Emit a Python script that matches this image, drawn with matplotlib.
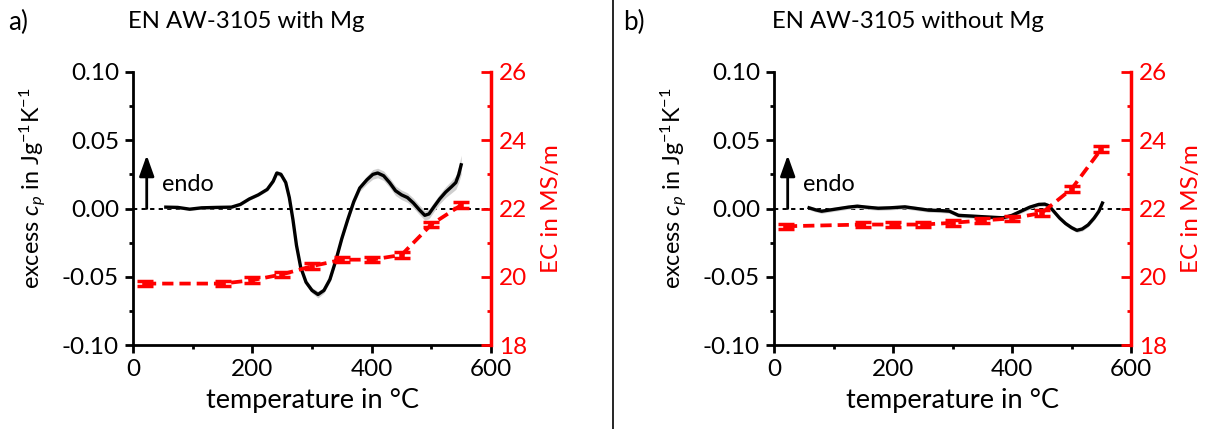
import numpy as np
import matplotlib
matplotlib.use("Agg")
import matplotlib.pyplot as plt
from matplotlib.ticker import MultipleLocator, FormatStrFormatter

plt.rcParams['font.family'] = ['Lato', 'DejaVu Sans']
plt.rcParams['mathtext.fontset'] = 'custom'
plt.rcParams['mathtext.rm'] = 'Lato'
plt.rcParams['mathtext.it'] = 'Lato:italic'
plt.rcParams['axes.unicode_minus'] = False

# ---------------- data ----------------
# panel a: EN AW-3105 with Mg
temp_a = [55, 75, 95, 115, 140, 165, 180, 195, 210, 225, 235, 241, 248, 256, 262, 268, 274,
          281, 290, 300, 310, 320, 330, 340, 350, 360, 370, 380, 392, 402, 410, 420, 430,
          440, 450, 460, 470, 480, 489, 496, 504, 514, 524, 534, 541, 546, 550]
cp_a = [0.001, 0.0008, -0.0005, 0.0005, 0.0008, 0.001, 0.003, 0.007, 0.010, 0.014, 0.020,
        0.026, 0.025, 0.019, 0.008, -0.008, -0.027, -0.043, -0.054, -0.060, -0.063, -0.060,
        -0.052, -0.038, -0.022, -0.008, 0.005, 0.015, 0.021, 0.025, 0.026, 0.024, 0.019,
        0.013, 0.010, 0.008, 0.004, -0.001, -0.005, -0.004, 0.001, 0.007, 0.012, 0.016,
        0.019, 0.025, 0.032]
cp_a_err = [0.001, 0.001, 0.001, 0.001, 0.001, 0.001, 0.001, 0.001, 0.001, 0.0012, 0.0015,
            0.0018, 0.0018, 0.0018, 0.0018, 0.0018, 0.0018, 0.0018, 0.0018, 0.002, 0.0025,
            0.002, 0.0018, 0.0018, 0.0018, 0.0018, 0.002, 0.0025, 0.003, 0.0035, 0.0035,
            0.0035, 0.0035, 0.0035, 0.0035, 0.0035, 0.0035, 0.0035, 0.0035, 0.0035, 0.0035,
            0.0035, 0.004, 0.0045, 0.005, 0.006, 0.007]
ec_temp_a = [20, 150, 200, 250, 300, 350, 400, 450, 500, 550]
ec_a = [19.8, 19.8, 19.9, 20.07, 20.31, 20.5, 20.5, 20.64, 21.53, 22.1]
ec_a_err = [0.08, 0.08, 0.08, 0.08, 0.08, 0.08, 0.08, 0.08, 0.08, 0.08]

# panel b: EN AW-3105 without Mg
temp_b = [59, 70, 80, 95, 110, 125, 140, 155, 175, 195, 220, 240, 260, 280, 295, 310,
          330, 350, 370, 385, 400, 415, 430, 445, 455, 462, 470, 480, 490, 500, 509, 518,
          528, 538, 546, 552]
cp_b = [0.0005, -0.001, -0.002, -0.001, 0.0, 0.001, 0.0017, 0.001, 0.0002, 0.0005, 0.0012,
        0.0, -0.0012, -0.0015, -0.002, -0.005, -0.0055, -0.006, -0.0065, -0.0068, -0.005,
        -0.002, 0.001, 0.003, 0.0032, 0.002, -0.002, -0.007, -0.011, -0.014, -0.016, -0.015,
        -0.012, -0.007, -0.002, 0.004]
cp_b_err = [0.0015] * 36
ec_temp_b = [20, 150, 200, 250, 300, 350, 400, 450, 500, 550]
ec_b = [21.48, 21.53, 21.53, 21.53, 21.58, 21.65, 21.71, 21.87, 22.57, 23.74]
ec_b_err = [0.08, 0.08, 0.08, 0.08, 0.08, 0.08, 0.08, 0.08, 0.08, 0.08]

titles = ["EN AW-3105 with Mg", "EN AW-3105 without Mg"]
letters = ["a)", "b)"]

# ---------------- figure ----------------
W, H = 1222, 429
fig = plt.figure(figsize=(W / 100, H / 100), dpi=100)

def px(l, b, r, t):
    return [l / W, (H - b) / H, (r - l) / W, (b - t) / H]

boxes = [px(133, 345, 491, 72), px(774, 345, 1131, 72)]
RED = '#ff0000'
FS_TICK = 17.5
FS_XLAB = 19.5
FS_YLAB = 16.8
FS_EC = 17.5
FS_ENDO = 16.8
FS_TITLE = 17.2

datasets = [
    (temp_a, cp_a, cp_a_err, ec_temp_a, ec_a, ec_a_err),
    (temp_b, cp_b, cp_b_err, ec_temp_b, ec_b, ec_b_err),
]

for i, (box, d) in enumerate(zip(boxes, datasets)):
    t, cp, cpe, et, ec, ece = d
    t = np.array(t); cp = np.array(cp); cpe = np.array(cpe)
    ax = fig.add_axes(box)
    ax.axhline(0, color='black', lw=1.4, ls=(0, (2.2, 2.2)), zorder=1)
    ax.fill_between(t, cp - cpe, cp + cpe, color='#cfcfcf', lw=0, zorder=2)
    ax.plot(t, cp, color='black', lw=2.4, zorder=3)
    ax.set_xlim(0, 600)
    ax.set_ylim(-0.10, 0.10)
    ax.xaxis.set_major_locator(MultipleLocator(200))
    ax.xaxis.set_minor_locator(MultipleLocator(100))
    ax.yaxis.set_major_locator(MultipleLocator(0.05))
    ax.yaxis.set_minor_locator(MultipleLocator(0.025))
    ax.yaxis.set_major_formatter(FormatStrFormatter('%.2f'))
    ax.spines['top'].set_visible(False)
    ax.spines['right'].set_visible(False)
    for s in ['left', 'bottom']:
        ax.spines[s].set_linewidth(2)
    ax.tick_params(which='major', direction='out', length=6, width=2,
                   labelsize=FS_TICK, pad=4)
    ax.tick_params(which='minor', direction='out', length=3, width=2)
    ax.set_xlabel('temperature in °C', fontsize=FS_XLAB, labelpad=6)
    ax.set_ylabel(r'excess $c_p$ in Jg$^{-1}$K$^{-1}$', fontsize=FS_YLAB, labelpad=6)
    ax.yaxis.set_label_coords(-0.235, 0.575)

    # endo arrow
    ax.annotate('', xy=(23, 0.039), xytext=(23, 0.0),
                arrowprops=dict(arrowstyle='-|>,head_length=0.7,head_width=0.25',
                                color='black', lw=2,
                                mutation_scale=18, shrinkA=0, shrinkB=0), zorder=4)
    ax.text(49, 0.0175, 'endo', fontsize=FS_ENDO, va='center', ha='left')

    ax2 = ax.twinx()
    ax2.errorbar(et, ec, yerr=ece, color=RED, lw=2.7, ls=(0, (3, 1.6)),
                 elinewidth=4, capsize=6, capthick=2.5, zorder=5)
    ax2.set_ylim(18, 26)
    ax2.yaxis.set_major_locator(MultipleLocator(2))
    ax2.yaxis.set_minor_locator(MultipleLocator(1))
    for s in ['top', 'left', 'bottom']:
        ax2.spines[s].set_visible(False)
    ax2.spines['right'].set_color(RED)
    ax2.spines['right'].set_linewidth(2.5)
    ax2.tick_params(which='major', direction='in', length=7, width=2, colors=RED,
                    labelsize=FS_TICK, pad=6)
    ax2.tick_params(which='minor', direction='in', length=3, width=2, colors=RED)
    ax2.set_ylabel('EC in MS/m', fontsize=FS_EC, color=RED, labelpad=10)

# titles
fig.text(8 / W, 1 - 22 / H, letters[0], fontsize=FS_TITLE + 1.5, va='center', ha='left')
fig.text(128 / W, 1 - 22 / H, titles[0], fontsize=FS_TITLE, va='center', ha='left')
fig.text(623 / W, 1 - 22 / H, letters[1], fontsize=FS_TITLE + 1.5, va='center', ha='left')
fig.text(772 / W, 1 - 22 / H, titles[1], fontsize=FS_TITLE, va='center', ha='left')

# divider
fig.add_artist(plt.Line2D([613 / W, 613 / W], [0, 1], color='black', lw=1.2,
                          transform=fig.transFigure))

fig.savefig('out.png', dpi=100)
